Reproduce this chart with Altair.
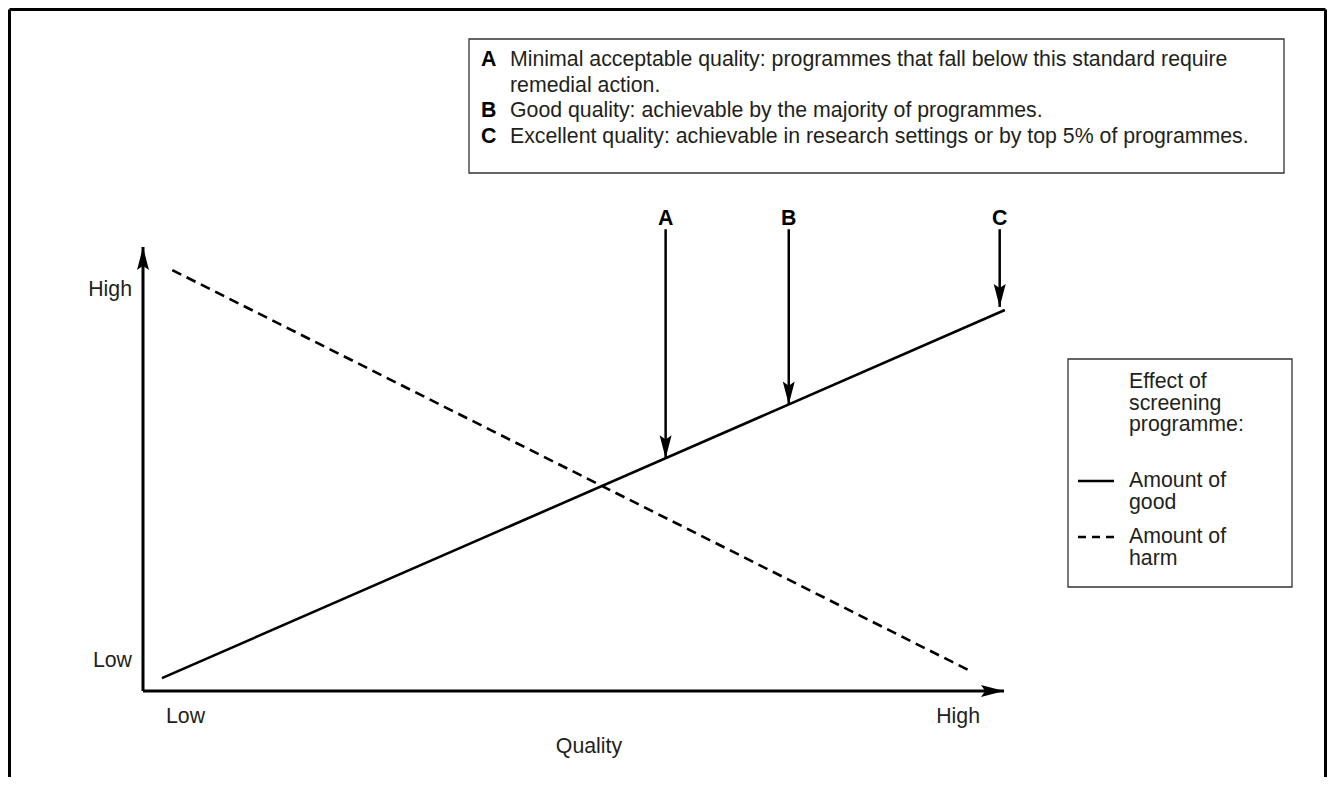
import altair as alt
import pandas as pd

# ---------------- data ----------------
axis_levels = ["Low", "High"]
axis_title = "Quality"

good_quality = [2.2, 100.1]      # quality units (0 = Low, 100 = High)
good_effect = [2.9, 85.8]        # effect units (0 = Low, 100 = High)
harm_quality = [3.4, 96.3]
harm_effect = [94.8, 4.3]

standards = ["A", "B", "C"]
standard_quality = [60.7, 75.0, 99.5]
standard_effect = [52.4, 64.5, 86.5]

note_letters = ["A", "", "B", "C"]
note_lines = [
    "Minimal acceptable quality: programmes that fall below this standard require",
    "remedial action.",
    "Good quality: achievable by the majority of programmes.",
    "Excellent quality: achievable in research settings or by top 5% of programmes.",
]

legend_title = ["Effect of", "screening", "programme:"]
legend_series_lines = [["Amount of", "good"], ["Amount of", "harm"]]

# ---------------- layout (plot px = page px - 8) ----------------
W, H = 1319, 769
ORIGIN_X, ORIGIN_Y = 135, 683     # plot px of (Low, Low)
UX, UY = 8.61, 4.44               # px per unit
FONT = "Liberation Sans"
FS = 21.3
INK = "#231f20"
BLACK = "#000000"

xs = alt.Scale(domain=[-ORIGIN_X / UX, (W - ORIGIN_X) / UX], nice=False, zero=False)
ys = alt.Scale(domain=[-(H - ORIGIN_Y) / UY, ORIGIN_Y / UY], nice=False, zero=False)

ARROW_TOP_E = 104.0
LABEL_E = 104.9

DOWN = "M0,0L-0.26,-1L0,-0.82L0.26,-1Z"
UP = "M0,0L-0.26,1L0,0.82L0.26,1Z"
RIGHT = "M0,0L-1,-0.26L-0.82,0L-1,0.26Z"
HEAD = (2 * 23) ** 2

one = pd.DataFrame({"k": [0]})


def X(f):
    return alt.X(f, type="quantitative", scale=xs, axis=None)


def Y(f):
    return alt.Y(f, type="quantitative", scale=ys, axis=None)


def label(text, x, y, align="left", bold=False, baseline="alphabetic"):
    kw = dict(font=FONT, fontSize=FS, color=INK, align=align, baseline=baseline)
    if bold:
        kw["fontWeight"] = "bold"
        kw["color"] = BLACK
    return alt.Chart(one).mark_text(**kw).encode(
        x=alt.value(x), y=alt.value(y), text=alt.value(text))


layers = []

# outer frame (open at the bottom)
layers.append(alt.Chart(one).mark_rule(color=BLACK, strokeWidth=3).encode(
    x=alt.value(1.5), y=alt.value(1.5), y2=alt.value(H)))
layers.append(alt.Chart(one).mark_rule(color=BLACK, strokeWidth=3).encode(
    x=alt.value(1.5), x2=alt.value(W - 1.5), y=alt.value(1.5)))
layers.append(alt.Chart(one).mark_rule(color=BLACK, strokeWidth=3).encode(
    x=alt.value(W - 1.5), y=alt.value(1.5), y2=alt.value(H)))

# axes with arrowheads
ax = pd.DataFrame({"q": [0.0], "e": [0.0], "q2": [100.0], "e2": [100.0]})
layers.append(alt.Chart(ax).mark_rule(color=BLACK, strokeWidth=3).encode(
    x=X("q"), y=Y("e"), y2="e2"))
layers.append(alt.Chart(ax).mark_rule(color=BLACK, strokeWidth=3).encode(
    x=X("q"), x2="q2", y=Y("e")))
layers.append(alt.Chart(ax).mark_point(shape=UP, filled=True, opacity=1, color=BLACK,
                                        size=HEAD, strokeWidth=0).encode(x=X("q"), y=Y("e2")))
layers.append(alt.Chart(ax).mark_point(shape=RIGHT, filled=True, opacity=1, color=BLACK,
                                        size=HEAD, strokeWidth=0).encode(x=X("q2"), y=Y("e")))

# good / harm lines
good = pd.DataFrame({"q": good_quality, "e": good_effect})
harm = pd.DataFrame({"q": harm_quality, "e": harm_effect})
layers.append(alt.Chart(good).mark_line(color=BLACK, strokeWidth=2.6).encode(
    x=X("q"), y=Y("e")))
layers.append(alt.Chart(harm).mark_line(color=BLACK, strokeWidth=2.6, strokeDash=[10, 6]).encode(
    x=X("q"), y=Y("e")))

# standards arrows
std = pd.DataFrame({"s": standards, "q": standard_quality, "e": standard_effect})
layers.append(alt.Chart(std).mark_rule(color=BLACK, strokeWidth=2.5).encode(
    x=X("q"), y=Y("e"), y2=alt.datum(ARROW_TOP_E)))
layers.append(alt.Chart(std).mark_point(shape=DOWN, filled=True, opacity=1, color=BLACK,
                                         size=HEAD, strokeWidth=0).encode(x=X("q"), y=Y("e")))
layers.append(alt.Chart(std).mark_text(font=FONT, fontSize=FS, fontWeight="bold", color=BLACK,
                                        baseline="alphabetic", align="center").encode(
    x=X("q"), y=alt.datum(LABEL_E), text="s:N"))

# axis labels
layers += [
    label(axis_levels[1], 124, 282, align="right", baseline="middle"),
    label(axis_levels[0], 124, 653, align="right", baseline="middle"),
    label(axis_levels[0], 158, 709, align="left", baseline="middle"),
    label(axis_levels[1], 972, 709, align="right", baseline="middle"),
    label(axis_title, 581, 739, align="center", baseline="middle"),
]

# note box
BX0, BY0, BX1, BY1 = 461, 31, 1276, 165
layers.append(alt.Chart(one).mark_rect(fill="white", stroke="#333", strokeWidth=1.3).encode(
    x=alt.value(BX0), x2=alt.value(BX1), y=alt.value(BY0), y2=alt.value(BY1)))
for i, (letter, line) in enumerate(zip(note_letters, note_lines)):
    yy = 58 + i * 25.5
    if letter:
        layers.append(label(letter, BX0 + 12, yy, bold=True))
    layers.append(label(line, BX0 + 41, yy))

# legend box
LX0, LY0, LX1, LY1 = 1060, 351, 1284, 579
layers.append(alt.Chart(one).mark_rect(fill="white", stroke="#333", strokeWidth=1.3).encode(
    x=alt.value(LX0), x2=alt.value(LX1), y=alt.value(LY0), y2=alt.value(LY1)))
for i, t in enumerate(legend_title):
    layers.append(label(t, 1121, 380 + i * 21.5))
text_base = [479, 535]
for k, (lines, sy) in enumerate(zip(legend_series_lines, text_base)):
    mk = dict(color=BLACK, strokeWidth=2.5)
    if k == 1:
        mk["strokeDash"] = [8, 6]
    layers.append(alt.Chart(one).mark_rule(**mk).encode(
        x=alt.value(1070), x2=alt.value(1106), y=alt.value(sy - 6)))
    for j, t in enumerate(lines):
        layers.append(label(t, 1121, sy + j * 21.5))

chart = alt.layer(*layers).properties(width=W, height=H).configure(
    padding=0, autosize=alt.AutoSizeParams(type="none")
).configure_view(stroke=None)

chart.save("out.html", embed_options={"renderer": "svg", "actions": False})
